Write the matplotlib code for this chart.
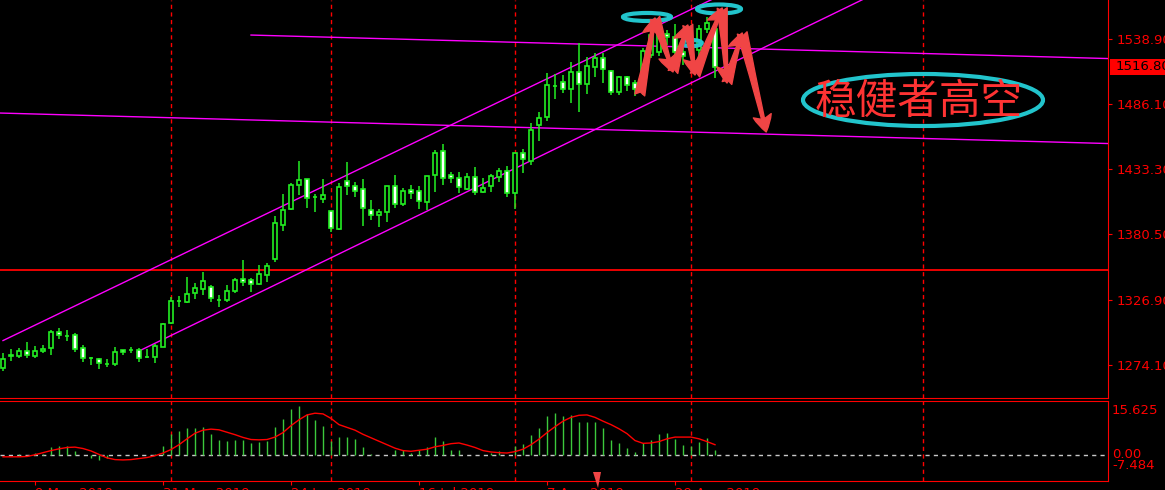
import numpy as np
import matplotlib.pyplot as plt
from matplotlib.patches import Ellipse, Rectangle, Polygon

# daily gold candles, 3 May 2019 .. 5 Sep 2019
opens = [1271.7, 1281.5, 1281.5, 1285.5, 1281.5, 1285.5, 1288.0, 1301.0, 1297.7, 1298.5,
         1288.0, 1279.9, 1279.0, 1275.0, 1275.0, 1286.3, 1286.3, 1286.3, 1280.7, 1280.7,
         1288.8, 1308.3, 1326.2, 1325.4, 1332.7, 1335.9, 1337.6, 1327.3, 1327.0, 1334.3,
         1344.1, 1343.3, 1340.0, 1347.3, 1360.3, 1388.0, 1401.0, 1420.5, 1425.4, 1410.7,
         1409.1, 1399.4, 1384.7, 1423.7, 1419.7, 1417.2, 1400.2, 1396.1, 1398.5, 1419.7,
         1405.0, 1416.4, 1415.6, 1406.7, 1428.6, 1448.1, 1428.6, 1426.2, 1417.2, 1427.0,
         1414.8, 1419.7, 1427.0, 1431.9, 1414.0, 1446.5, 1440.0, 1469.3, 1475.8, 1501.0,
         1504.2, 1498.5, 1512.4, 1502.6, 1516.4, 1523.7, 1513.2, 1496.1, 1508.3, 1503.4,
         1499.4, 1526.2, 1528.6, 1543.3, 1540.8, 1528.6, 1536.8, 1530.3, 1547.3, 1547.3]
highs = [1283.9, 1287.2, 1288.0, 1292.9, 1289.6, 1290.4, 1302.6, 1304.2, 1302.6, 1300.2,
         1290.4, 1280.7, 1279.9, 1279.0, 1288.8, 1286.3, 1288.8, 1288.0, 1287.2, 1291.2,
         1308.3, 1329.4, 1330.3, 1345.7, 1340.8, 1349.8, 1339.2, 1331.1, 1339.2, 1344.9,
         1359.5, 1344.9, 1355.5, 1357.1, 1395.3, 1413.2, 1422.1, 1440.0, 1425.4, 1413.2,
         1425.4, 1399.4, 1422.1, 1439.2, 1422.9, 1425.4, 1408.3, 1401.0, 1419.7, 1428.6,
         1418.0, 1420.5, 1419.7, 1427.8, 1448.9, 1453.8, 1431.1, 1431.1, 1430.3, 1435.1,
         1426.2, 1429.4, 1434.3, 1435.9, 1446.5, 1449.8, 1470.9, 1479.8, 1511.5, 1510.7,
         1509.9, 1520.5, 1535.9, 1524.6, 1527.8, 1527.8, 1514.0, 1509.1, 1509.1, 1505.9,
         1531.9, 1554.6, 1545.7, 1546.5, 1551.4, 1532.7, 1540.0, 1550.6, 1557.1, 1548.9]
lows = [1269.3, 1277.4, 1279.9, 1279.9, 1279.9, 1283.9, 1282.3, 1295.3, 1293.7, 1284.7,
        1276.6, 1274.2, 1270.9, 1272.5, 1273.3, 1282.3, 1283.9, 1276.6, 1280.0, 1275.8,
        1288.8, 1307.5, 1321.3, 1324.6, 1327.8, 1331.1, 1325.4, 1321.3, 1325.4, 1332.7,
        1338.4, 1333.5, 1339.2, 1341.6, 1357.9, 1383.1, 1400.2, 1412.4, 1401.8, 1398.5,
        1405.9, 1382.3, 1383.9, 1412.4, 1410.7, 1387.2, 1392.0, 1386.3, 1390.4, 1401.8,
        1403.4, 1409.1, 1401.0, 1400.2, 1414.8, 1420.5, 1422.1, 1414.0, 1416.4, 1412.4,
        1414.0, 1414.8, 1422.9, 1410.7, 1401.0, 1430.3, 1436.8, 1456.3, 1472.5, 1490.4,
        1495.3, 1487.2, 1479.8, 1494.5, 1508.3, 1503.4, 1493.7, 1493.7, 1496.9, 1492.9,
        1493.7, 1523.7, 1525.4, 1534.3, 1523.7, 1518.1, 1526.2, 1523.7, 1544.1, 1507.5]
closes = [1279.0, 1282.0, 1285.5, 1282.3, 1285.5, 1287.2, 1301.0, 1298.5, 1297.4, 1287.2,
          1279.9, 1279.6, 1275.8, 1274.7, 1284.7, 1284.7, 1286.6, 1279.9, 1280.4, 1289.6,
          1307.5, 1326.2, 1326.5, 1331.9, 1336.8, 1342.4, 1328.6, 1327.0, 1334.3, 1343.3,
          1341.6, 1340.0, 1348.1, 1354.6, 1389.6, 1400.2, 1420.5, 1424.6, 1409.9, 1411.0,
          1412.4, 1385.5, 1418.9, 1419.7, 1415.6, 1401.8, 1396.1, 1398.5, 1419.7, 1405.0,
          1415.6, 1414.0, 1407.5, 1427.8, 1446.5, 1426.2, 1426.2, 1418.9, 1427.0, 1414.8,
          1418.0, 1427.8, 1431.9, 1414.0, 1446.5, 1441.6, 1465.2, 1475.0, 1501.8, 1500.8,
          1498.5, 1512.4, 1502.6, 1517.2, 1523.7, 1514.8, 1496.1, 1508.3, 1501.8, 1498.5,
          1529.4, 1542.4, 1543.3, 1540.8, 1528.6, 1525.4, 1533.5, 1547.3, 1552.2, 1516.8]

# MACD panel
macd_hist = [0, 0, 0.3, 0, 0.7, 0.2, 2.4, 2.7, 2.7, 1.3,
             0, -0.9, -1.4, -0.9, -0.1, 0, 0.1, 0, 0.1, 0.3,
             2.7, 6.1, 7.0, 7.7, 7.9, 8.2, 6.2, 4.4, 4.1, 4.4,
             4.4, 3.6, 3.9, 4.1, 8.2, 10.5, 13.4, 14.3, 11.8, 10.2,
             8.5, 4.2, 5.1, 5.3, 4.7, 2.4, 0.4, 0, 0, 1.6,
             1.5, 0.7, 1.5, 2.4, 5.3, 4.1, 1.5, 1.5, 0.1, 0.1,
             0.1, 0.6, 1.2, 0.1, 2.7, 3.2, 5.9, 7.9, 11.4, 12.2,
             11.4, 11.7, 9.6, 9.6, 9.6, 7.9, 4.4, 3.6, 2.1, 1.0,
             3.5, 4.4, 6.2, 6.5, 4.7, 3.0, 2.7, 3.9, 5.0, 1.5]
macd_signal = [-0.5, -0.5, -0.5, -0.4, 0.1, 0.7, 1.3, 1.8, 2.2, 2.3,
               1.9, 1.2, 0.2, -0.8, -1.3, -1.4, -1.3, -1.0, -0.7, -0.2,
               0.6, 1.6, 3.0, 4.7, 6.3, 7.2, 7.5, 7.3, 6.6, 5.9,
               5.1, 4.5, 4.4, 4.5, 5.2, 6.5, 8.5, 10.2, 11.6, 12.1,
               11.9, 10.6, 8.8, 8.0, 7.2, 6.0, 5.0, 4.0, 3.0, 2.0,
               1.3, 1.1, 1.4, 1.7, 2.4, 2.8, 3.3, 3.5, 2.9, 2.2,
               1.3, 0.9, 0.7, 0.6, 1.0, 1.7, 3.0, 4.6, 6.5, 8.2,
               9.8, 10.9, 11.5, 11.6, 10.9, 9.8, 8.8, 7.6, 6.2, 4.2,
               3.4, 3.5, 3.9, 4.7, 5.2, 5.2, 5.2, 4.7, 3.9, 3.0]

price_ticks = [1538.90, 1486.10, 1433.30, 1380.50, 1326.90, 1274.10]
last_price = 1516.80
macd_max = 15.625
macd_min = -7.484

date_idx = [4, 20, 36, 52, 68, 84]
date_labels = ['9 May 2019', '31 May 2019', '24 Jun 2019', '16 Jul 2019',
               '7 Aug 2019', '29 Aug 2019']
month_sep = [21, 41, 64, 86, 115]

support_level = 1351.3
# drawn objects, (bar index, price)
channel_top = [(0, 1294.0), (90, 1575.7)]
channel_bot = [(16.75, 1284.7), (110, 1579.3)]
upper_line = [(31.0, 1542.4), (138.1, 1523.3)]
lower_line = [(-0.4, 1479.0), (138.1, 1454.2)]
zigzag = [(79.6, 1493.7), (81.5, 1556.3), (83.75, 1512.4), (85.6, 1550.6),
          (86.5, 1509.9), (89.9, 1564.4), (90.5, 1503.4), (92.4, 1544.1),
          (95.4, 1463.6)]
# (centre index, centre price, width, height)
rings = [(80.5, 1557.1, 6.0, 6.5), (89.5, 1563.6, 5.5, 7.3), (86.1, 1535.9, 2.5, 4.9)]
big_ring = (115.0, 1489.6, 30.0, 42.3)
note_text = '稳健者高空'

RED = '#FF0000'
GREEN = '#22EE22'
MAGENTA = '#FF00FF'
CYAN = '#22C4CC'

fig = plt.figure(figsize=(11.65, 4.9), dpi=100, facecolor='black')
ax = fig.add_axes([0, 92 / 490, 1108 / 1165, 398 / 490])
axm = fig.add_axes([0, 9 / 490, 1108 / 1165, 80 / 490])

idx = np.arange(len(opens))
o = np.array(opens)
c = np.array(closes)

for a in (ax, axm):
    a.set_facecolor('black')
    a.set_xlim(-0.375, 138.125)
    for s in ('left', 'top', 'right', 'bottom'):
        a.spines[s].set_color(RED)
    a.spines['left'].set_visible(False)
    for m in month_sep:
        a.axvline(m, color=RED, lw=1, ls=(0, (3, 2.5)), zorder=1)

ax.spines['top'].set_visible(False)
ax.set_ylim(1247.3, 1570.9)

# candles
ax.vlines(idx, lows, highs, color=GREEN, lw=1.1, zorder=3)
up = c >= o
body = np.maximum(np.abs(c - o), 0.3)
ax.bar(idx[up], body[up], bottom=o[up], width=0.62, facecolor='black',
       edgecolor=GREEN, lw=1.2, zorder=4)
ax.bar(idx[~up], body[~up], bottom=c[~up], width=0.62, facecolor='white',
       edgecolor=GREEN, lw=1.2, zorder=4)

# lines
ax.axhline(support_level, color=RED, lw=1.3, zorder=2)
for ln in (channel_top, channel_bot, upper_line, lower_line):
    xs, ys = zip(*ln)
    ax.plot(xs, ys, color=MAGENTA, lw=1, zorder=2)

for (cx, cy, w, h) in rings:
    ax.add_patch(Ellipse((cx, cy), w, h, fill=False, ec=CYAN, lw=3, zorder=6))
ax.add_patch(Ellipse(big_ring[:2], big_ring[2], big_ring[3], fill=False,
                     ec=CYAN, lw=3, zorder=6))
ax.text(114.4, 1488.0, note_text, color='#FF3333', fontsize=30, ha='center',
        va='center', family=['Noto Sans CJK SC', 'DejaVu Sans'], fontweight='light',
        zorder=7)

for p0, p1 in zip(zigzag[:-1], zigzag[1:]):
    ax.annotate('', xy=p1, xytext=p0, zorder=8,
                arrowprops=dict(arrowstyle='fancy,head_length=1.0,head_width=1.1,tail_width=0.6',
                                color='#F04545', shrinkA=0, shrinkB=0, mutation_scale=12))

# price scale
ax.yaxis.tick_right()
ax.set_yticks(price_ticks)
ax.set_yticklabels(['%.2f' % v for v in price_ticks])
ax.tick_params(axis='y', colors=RED, labelsize=9.5, length=3, pad=3)
ax.set_xticks([])
ytr = ax.get_yaxis_transform()
ax.add_patch(Rectangle((1 + 2 / 1108, last_price - 8 * 0.813), 60 / 1108, 16 * 0.813,
                       transform=ytr, clip_on=False, fc=RED, ec='none'))
ax.text(1 + 8 / 1108, last_price, '%.2f' % last_price, transform=ytr, color='black',
        fontsize=9.5, va='center', ha='left')

# MACD
axm.set_ylim(macd_min, macd_max)
axm.vlines(idx, 0, macd_hist, color='#3CC83C', lw=1, zorder=3)
axm.plot(idx, macd_signal, color=RED, lw=1, zorder=4)
axm.axhline(0, color='#C8C8C8', lw=1, ls=(0, (3, 3)), zorder=2)
axm.set_yticks([])
for txt, yf in (('%.3f' % macd_max, 0.8875), ('0.00', 0.33), ('%.3f' % macd_min, 0.20)):
    axm.text(1 + 4 / 1108, yf, txt, transform=axm.transAxes, color=RED,
             fontsize=9.5, va='center', ha='left')

axm.set_xticks(date_idx)
axm.set_xticklabels(date_labels)
axm.tick_params(axis='x', colors=RED, labelsize=9.5, length=3, pad=1)
for lb in axm.get_xticklabels():
    lb.set_ha('left')

# small marker below the time axis
fig.add_artist(Polygon([[593, 18], [601, 18], [598, 2]], closed=True,
                       transform=None, fc='#F04545', ec='none'))

fig.savefig('out.png', dpi=100, facecolor='black')
